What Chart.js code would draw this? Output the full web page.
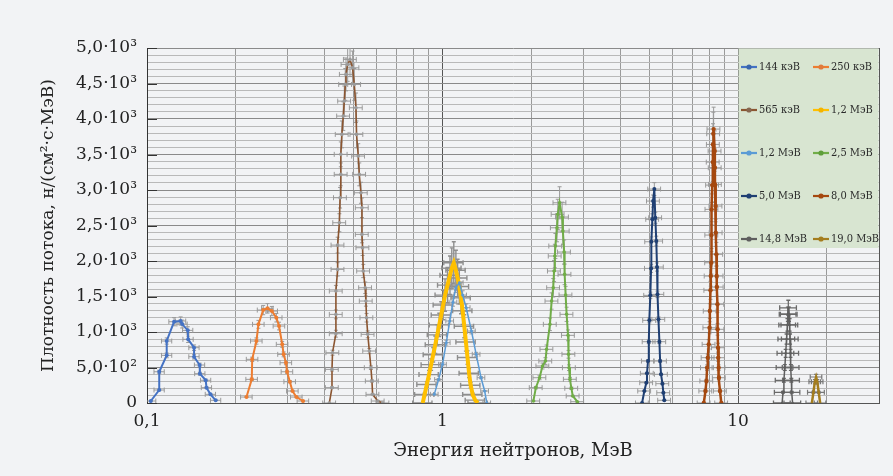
<!DOCTYPE html>
<html>
<head>
<meta charset="utf-8">
<script src="https://cdn.jsdelivr.net/npm/chart.js@4.4.0/dist/chart.umd.min.js"></script>
<style>
html,body{margin:0;padding:0;background:#f2f3f5;}
#wrap{width:893px;height:476px;}
</style>
</head>
<body>
<div id="wrap"><canvas id="c" width="893" height="476"></canvas></div>
<script>
// ---- data (energy in MeV, flux density) ----
const seriesLabels = ['144 кэВ','250 кэВ','565 кэВ','1,2 МэВ','1,2 МэВ','2,5 МэВ','5,0 МэВ','8,0 МэВ','14,8 МэВ','19,0 МэВ'];

const e144 = [0.103,0.110,0.110,0.1166,0.1166,0.1235,0.130,0.1315,0.1374,0.1378,0.1443,0.1443,0.1507,0.151,0.158,0.159,0.164,0.1708];
const f144 = [28,183,440,671,873,1145,1155,1112,1023,897,779,652,535,413,320,216,122,38];

const e250 = [0.2171,0.2262,0.2270,0.2346,0.2383,0.2473,0.2557,0.2645,0.274,0.2798,0.2868,0.290,0.2953,0.2978,0.3043,0.3107,0.3204,0.3373];
const f250 = [84,333,615,873,1108,1309,1333,1295,1201,1084,826,685,567,440,300,169,84,28];

const e565 = [0.414,0.4227,0.4227,0.4244,0.4358,0.4358,0.4358,0.4417,0.4417,0.4477,0.4502,0.4528,0.4528,0.4565,0.4615,0.4652,0.4688,0.4714,0.4776,0.4864,
              0.4963,0.5029,0.5095,0.5118,0.5187,0.5228,0.5297,0.5338,0.5338,0.5364,0.5394,0.5477,0.5505,0.5533,0.5585,0.5655,0.5725,0.5771,0.580,0.6042,0.627];
const f565 = [0,216,474,708,976,1248,1577,1882,2224,2539,2891,3220,3502,3783,4041,4252,4487,4628,4769,4839,
              4721,4487,4158,3783,3478,3220,2961,2750,2375,2187,1859,1623,1436,1201,967,732,497,310,122,28,0];

const e12a = [0.857,0.87,0.885,0.90,0.915,0.93,0.945,0.96,0.975,0.99,1.005,1.02,1.04,1.06,1.075,1.092,
              1.11,1.125,1.14,1.155,1.17,1.185,1.20,1.215,1.23,1.245,1.265,1.29,1.318];
const f12a = [0,120,260,400,540,680,820,960,1100,1240,1380,1520,1660,1800,1900,1975,
              1870,1760,1640,1480,1300,1080,860,640,420,250,120,40,0];

const e12b = [0.938,0.97,1.0,1.03,1.058,1.085,1.109,1.14,1.17,1.203,1.253,1.30,1.35,1.389,1.412];
const f12b = [122,330,545,850,1155,1420,1623,1694,1520,1342,1014,686,356,169,0];

const e25 = [2.03,2.07,2.13,2.18,2.23,2.25,2.31,2.34,2.37,2.385,2.40,2.41,2.44,2.455,2.49,
             2.54,2.555,2.58,2.59,2.61,2.63,2.66,2.67,2.68,2.70,2.73,2.76,2.86];
const f25 = [28,216,356,521,591,756,1108,1436,1623,1859,2070,2211,2468,2657,2820,
             2619,2422,2126,1812,1521,1249,953,686,497,334,207,99,18];

const e50 = [4.735,4.82,4.895,4.92,4.96,4.99,5.01,5.05,5.08,5.09,5.13,5.16,5.21,5.25,5.29,5.32,5.34,5.38,5.42,5.45,5.49,5.55,5.59,5.63];
const f50 = [0,169,286,418,591,863,1164,1516,1896,2271,2587,2844,3013,2609,2281,1915,1530,1178,863,591,404,272,145,38];

const e80 = [7.66,7.76,7.82,7.86,7.90,7.96,8.01,8.03,8.07,8.09,8.12,8.13,8.14,8.18,8.22,8.23,8.25,8.27,
             8.34,8.35,8.36,8.40,8.41,8.45,8.47,8.48,8.52,8.53,8.56,8.57,8.60,8.62,8.69,8.78];
const f80 = [0,169,310,497,638,826,1060,1295,1587,1788,1975,2365,2727,3069,3393,3642,3792,3858,
             3548,3313,3079,2774,2398,2094,1788,1633,1390,1038,779,638,497,356,169,0];

const e148 = [14.1,14.2,14.3,14.4,14.5,14.6,14.7,14.75,14.8,14.88,14.95,15.0,15.05,15.1,15.15,15.2,15.3];
const f148 = [0,150,320,500,700,900,1100,1250,1340,1250,1100,900,700,500,320,150,0];

const e190 = [17.78,18.0,18.2,18.38,18.55,18.75,18.97];
const f190 = [0,150,300,366,300,150,0];

// relative error-bar half widths per series
const xErrRel = [0.04,0.045,0.05,0.075,0.03,0.05,0.05,0.05,0.065,0.045];
const yErrRel = [0.05,0.05,0.05,0.15,0.04,0.08,0.03,0.08,0.08,0.1];

// tick labels
const xTickValues = [0.1,0.2,0.3,0.4,0.5,0.6,0.7,0.8,0.9,1,2,3,4,5,6,7,8,9,10,20,30];
const xTickLabels = ['0,1','','','','','','','','','1','','','','','','','','','10','',''];
const yTickLabels = ['0','5,0·10²','1,0·10³','1,5·10³','2,0·10³','2,5·10³','3,0·10³','3,5·10³','4,0·10³','4,5·10³','5,0·10³'];

// ---- styles ----
const lineColors = ['#4472C4','#ED7D31','#8B5530','#FFC000','#5B9BD5','#70AD47','#1F3F73','#A5480F','#5E5E5E','#A47D1E'];
const pointColors = ['#4472C4','#ED7D31','#9a9a9a','#FFC000','#5B9BD5','#70AD47','#1F3F73','#A5480F','#5E5E5E','#A47D1E'];
const legendMarker = ['#3a66ad','#E07B3C','#86664f','#F4B400','#5B9BD5','#5E9E3A','#1F3F73','#A5480F','#5E5E5E','#A47D1E'];
const errColors = ['#9a9a9a','#9a9a9a','#9a9a9a','#8e8e8e','#9a9a9a','#9a9a9a','#9a9a9a','#9a9a9a','#6a6a6a','#777777'];
const errWidths = [1,1,1,1.4,1,1,1,1,1.3,1.2];
const lineWidths = [2,2,1.6,4,1.5,2,2,2.5,1.5,2.5];
const pointRadii = [2,2,1.8,0,1.5,1.8,2,2.2,1.2,1];

const sets = [[e144,f144],[e250,f250],[e565,f565],[e12a,f12a],[e12b,f12b],[e25,f25],[e50,f50],[e80,f80],[e148,f148],[e190,f190]];

const datasets = sets.map((s,i)=>({
  label: seriesLabels[i],
  data: s[0].map((e,j)=>({x:e,y:s[1][j]})),
  borderColor: lineColors[i],
  backgroundColor: pointColors[i],
  pointBackgroundColor: pointColors[i],
  pointBorderColor: pointColors[i],
  borderWidth: lineWidths[i],
  pointRadius: pointRadii[i],
  pointBorderWidth: 0,
  tension: 0,
  fill: false,
  order: 10 - i
}));

const FONT = 'DejaVu Serif';

const bgPlugin = {
  id:'bg',
  beforeDraw(chart){
    const c = chart.ctx;
    c.save(); c.fillStyle = '#f2f3f5'; c.fillRect(0,0,chart.width,chart.height); c.restore();
  }
};

const errPlugin = {
  id:'err',
  beforeDatasetsDraw(chart){
    const {ctx, chartArea:a, scales:{x,y}} = chart;
    ctx.save();
    ctx.beginPath(); ctx.rect(a.left,a.top,a.right-a.left,a.bottom-a.top); ctx.clip();
    chart.data.datasets.forEach((ds,i)=>{
      const rx = xErrRel[i], ry = yErrRel[i];
      ctx.strokeStyle = errColors[i];
      ctx.lineWidth = errWidths[i];
      ds.data.forEach(p=>{
        const x1 = x.getPixelForValue(p.x*(1-rx)), x2 = x.getPixelForValue(p.x*(1+rx));
        const px = x.getPixelForValue(p.x), py = y.getPixelForValue(p.y);
        ctx.beginPath();
        ctx.moveTo(x1,py); ctx.lineTo(x2,py);
        ctx.moveTo(x1,py-2.5); ctx.lineTo(x1,py+2.5);
        ctx.moveTo(x2,py-2.5); ctx.lineTo(x2,py+2.5);
        if (p.y > 0) {
          const y1 = y.getPixelForValue(p.y*(1+ry)), y2 = y.getPixelForValue(p.y*(1-ry));
          ctx.moveTo(px,y1); ctx.lineTo(px,y2);
          ctx.moveTo(px-2,y1); ctx.lineTo(px+2,y1);
          ctx.moveTo(px-2,y2); ctx.lineTo(px+2,y2);
        }
        ctx.stroke();
      });
    });
    ctx.restore();
  },
  afterDatasetsDraw(chart){
    // inner major ticks on the y axis
    const {ctx, chartArea:a, scales:{y}} = chart;
    ctx.save();
    ctx.strokeStyle = '#333'; ctx.lineWidth = 1;
    yTickLabels.forEach((l,k)=>{
      const py = Math.round(y.getPixelForValue(k*500))+0.5;
      ctx.beginPath(); ctx.moveTo(a.left,py); ctx.lineTo(a.left+10,py); ctx.stroke();
    });
    ctx.restore();
  }
};

const legendPlugin = {
  id:'boxlegend',
  afterDraw(chart){
    const {ctx, chartArea:a} = chart;
    const L = 738.5, T = a.top+0.5, R = a.right-0.5, B = 248;
    ctx.save();
    ctx.fillStyle = '#d8e5d1';
    ctx.fillRect(L, T, R-L, B-T);
    ctx.font = '11.5px "DejaVu Serif"';
    ctx.textBaseline = 'middle';
    const rowY = [67,110,153,196,239];
    const colX = [741, 813];
    chart.data.datasets.forEach((ds,i)=>{
      const r = Math.floor(i/2), c = i%2;
      const x0 = colX[c], yy = rowY[r];
      ctx.strokeStyle = lineColors[i];
      ctx.lineWidth = 2.2;
      ctx.beginPath(); ctx.moveTo(x0,yy); ctx.lineTo(x0+16,yy); ctx.stroke();
      ctx.fillStyle = legendMarker[i];
      ctx.beginPath(); ctx.arc(x0+8,yy,2.6,0,Math.PI*2); ctx.fill();
      ctx.fillStyle = '#2a2a2a';
      // condensed rendering of the legend text to fit the box
      ctx.save();
      ctx.translate(x0+18, yy+0.5);
      ctx.scale(0.86, 1);
      ctx.fillText(ds.label, 0, 0);
      ctx.restore();
    });
    ctx.restore();
  }
};

new Chart(document.getElementById('c'), {
  type:'line',
  data:{datasets},
  options:{
    responsive:false,
    animation:false,
    events:[],
    layout:{padding:{left:0,right:14,top:48,bottom:0}},
    plugins:{legend:{display:false},tooltip:{enabled:false}},
    scales:{
      x:{
        type:'logarithmic',
        min:0.1, max:30,
        afterBuildTicks(s){ s.ticks = xTickValues.map(v=>({value:v})); },
        afterFit(s){ s.height = 73; },
        ticks:{
          autoSkip:false, maxRotation:0, padding:8,
          color:'#222', font:{family:FONT,size:17},
          callback(v,i){ return xTickLabels[i]; }
        },
        grid:{
          drawTicks:false,
          color(ctx){ const v = ctx.tick ? ctx.tick.value : 0; return (v===1||v===10||v===30)?'#555':'#9a9a9a'; },
          lineWidth:1
        },
        border:{display:true,color:'#555',width:1},
        title:{display:true,text:'Энергия нейтронов, МэВ',color:'#222',font:{family:FONT,size:18},padding:{top:0,bottom:14}}
      },
      y:{
        type:'linear',
        min:0, max:5000,
        afterBuildTicks(s){ const t=[]; for(let v=0; v<=5000; v+=100) t.push({value:v}); s.ticks = t; },
        afterFit(s){ s.width = 147; },
        ticks:{
          autoSkip:false, padding:10,
          color:'#222', font:{family:FONT,size:17},
          callback(v){ return (v%500===0) ? yTickLabels[v/500] : ''; }
        },
        grid:{
          drawTicks:false,
          color(ctx){ const v = ctx.tick ? ctx.tick.value : 0; return (v%500===0)?'#8a8a8a':'#b9b9b9'; },
          lineWidth:1
        },
        border:{display:true,color:'#333',width:1},
        title:{display:true,text:'Плотность потока, н/(см²·с·МэВ)',color:'#222',font:{family:FONT,size:17},padding:{top:38,bottom:0}}
      }
    }
  },
  plugins:[bgPlugin, errPlugin, legendPlugin]
});
</script>
</body>
</html>
